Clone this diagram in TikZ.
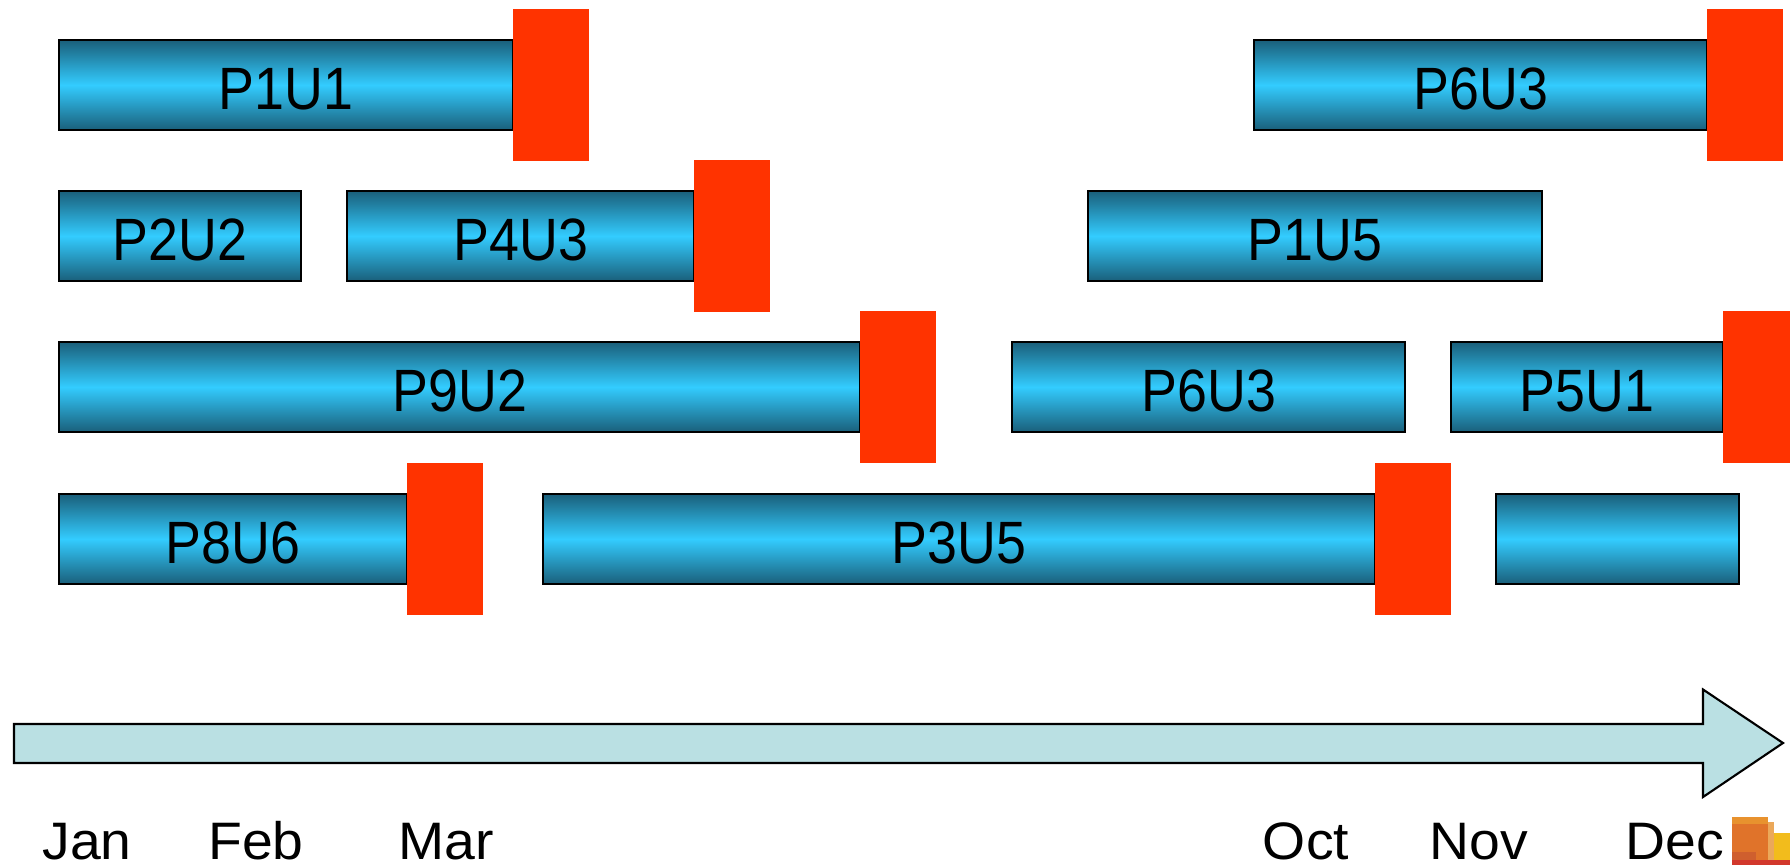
\documentclass[tikz,border=0pt]{standalone}
\usepackage{fontspec}
\setmainfont[FakeStretch=1.05]{Liberation Sans}
\newfontfamily\barfont[FakeStretch=0.9]{Liberation Sans}
\definecolor{bardark}{HTML}{1A5F7A}
\definecolor{barlight}{HTML}{33CCFF}
\definecolor{redmark}{HTML}{FF3300}
\definecolor{arrowfill}{HTML}{BAE0E3}
\definecolor{logoyellow}{HTML}{F2BC1C}
\definecolor{logopale}{HTML}{EBA85A}
\definecolor{logomain}{HTML}{E0732A}
\definecolor{logotop}{HTML}{E8922E}
\definecolor{logoinner}{HTML}{CF5F2E}
\definecolor{logored}{HTML}{D2382C}
\tikzset{
    barbox/.style={draw=black,line width=0.7pt,inner sep=0pt,minimum height=0.9cm,anchor=west,
        top color=bardark,bottom color=bardark,middle color=barlight,
        text height=0.48cm,text depth=0pt,
        font=\barfont\fontsize{17}{20}\selectfont},
    redbox/.style={fill=redmark,inner sep=0pt,minimum height=1.52cm,minimum width=0.76cm,anchor=west,xshift=-0.02cm},
    monthlabel/.style={inner sep=0pt,anchor=base,font=\fontsize{15}{18}\selectfont}
}
\begin{document}
\begin{tikzpicture}
    \useasboundingbox (0,0) rectangle (17.9,8.65);
    \foreach \u/\x/\y/\w/\t in {p1u1/0.58/7.80/4.54/P1U1,p6u3top/12.53/7.80/4.53/P6U3,
        p2u2/0.58/6.29/2.42/P2U2,p4u3/3.46/6.29/3.47/P4U3,p1u5/10.87/6.29/4.54/P1U5,
        p9u2/0.58/4.78/8.01/P9U2,p6u3mid/10.11/4.78/3.93/P6U3,p5u1/14.50/4.78/2.72/P5U1,
        p8u6/0.58/3.26/3.48/P8U6,p3u5/5.42/3.26/8.32/P3U5,blank/14.95/3.26/2.43/}
    {
        \node[barbox,minimum width=\w cm] (\u) at (\x,\y) {\t};
    }
    \foreach \u in {p1u1,p6u3top,p4u3,p9u2,p8u6,p3u5}
    {
        \node[redbox] (red\u) at (\u.east) {};
    }
    \node[redbox,minimum width=0.70cm] (redp5u1) at (p5u1.east) {};
    \draw[fill=arrowfill,line width=0.6pt] (0.14,1.02)--(17.03,1.02)--(17.03,0.68)--(17.83,1.22)--(17.03,1.755)--(17.03,1.41)--(0.14,1.41)--cycle;
    \foreach \u/\x/\t in {jan/0.87/Jan,feb/2.56/Feb,mar/4.46/Mar,oct/13.06/Oct,nov/14.79/Nov,dec/16.75/Dec}
    {
        \node[monthlabel] (\u) at (\x,0.06) {\t};
    }
    % logo
    \fill[logoyellow] (17.74,0) rectangle (17.9,0.32);
    \fill[logopale] (17.68,0) rectangle (17.74,0.43);
    \fill[logomain] (17.32,0) rectangle (17.68,0.48);
    \fill[logotop] (17.32,0.41) rectangle (17.68,0.48);
    \fill[logoinner] (17.32,0.05) rectangle (17.56,0.13);
    \fill[logored] (17.32,0) rectangle (17.9,0.05);
\end{tikzpicture}
\end{document}
